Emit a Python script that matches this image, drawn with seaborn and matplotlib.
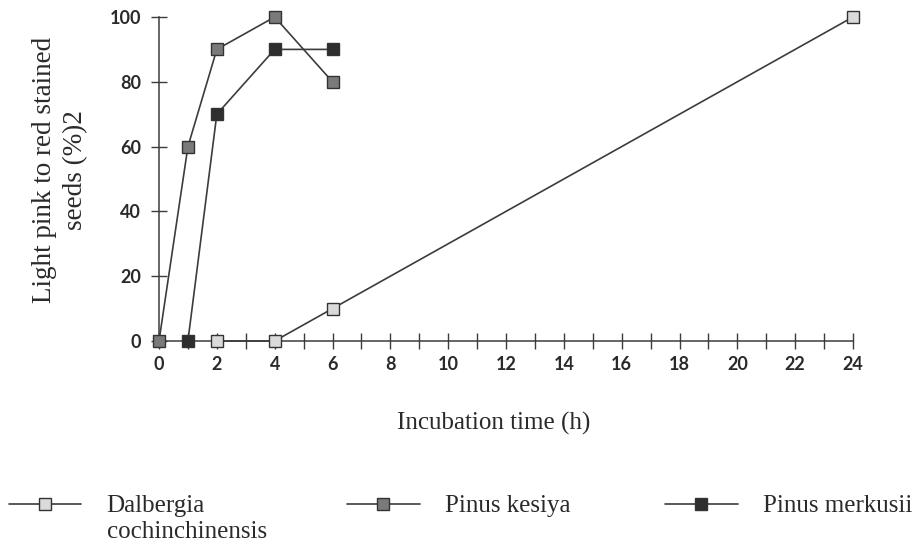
import matplotlib
matplotlib.use("Agg")
import matplotlib.pyplot as plt
import seaborn as sns
from matplotlib.lines import Line2D
from matplotlib.ticker import MultipleLocator

# ---- data ----
series_names = ["Dalbergia", "Pinus kesiya", "Pinus merkusii"]
series_name_extra = "cochinchinensis"
dalbergia_x = [2, 4, 6, 24]
dalbergia_y = [0, 0, 10, 100]
kesiya_x = [0, 1, 2, 4, 6]
kesiya_y = [0, 60, 90, 100, 80]
merkusii_x = [1, 2, 4, 6]
merkusii_y = [0, 70, 90, 90]
x_ticks = [0, 2, 4, 6, 8, 10, 12, 14, 16, 18, 20, 22, 24]
y_ticks = [0, 20, 40, 60, 80, 100]
xlabel = "Incubation time (h)"
ylabel = "Light pink to red stained\nseeds (%)2"

sns.set_style("ticks")
plt.rcParams["font.family"] = ["Lato", "DejaVu Sans"]

W, H = 921, 547
line_col = "#3c3c3c"
text_col = "#2a2a2a"
faces = ["#dadada", "#7a7a7a", "#2e2e2e"]
serif = "Liberation Serif"

fig = plt.figure(figsize=(W / 100, H / 100), dpi=100)
ax = fig.add_axes([159 / W, 1 - 341 / H, (853 - 159) / W, (341 - 17) / H])

data = [(dalbergia_x, dalbergia_y), (kesiya_x, kesiya_y), (merkusii_x, merkusii_y)]
for (xs, ys), fc in zip(data, faces):
    sns.lineplot(x=xs, y=ys, ax=ax, color=line_col, linewidth=1.2, marker="s",
                 markersize=9, markerfacecolor=fc, markeredgecolor="#333333",
                 markeredgewidth=1.0, clip_on=False, zorder=3)

ax.set_xlim(0, 24)
ax.set_ylim(0, 100)
ax.set_xticks(x_ticks)
ax.set_xticklabels([str(t) for t in x_ticks])
ax.xaxis.set_minor_locator(MultipleLocator(1))
ax.set_yticks(y_ticks)
ax.set_yticklabels([str(t) for t in y_ticks])

for s in ["top", "right"]:
    ax.spines[s].set_visible(False)
for s in ["left", "bottom"]:
    ax.spines[s].set_color(line_col)
    ax.spines[s].set_linewidth(1.1)

ax.tick_params(axis="both", which="both", direction="inout", length=12, width=1.0,
               color=line_col, labelsize=13, labelcolor=text_col)
for lab in ax.get_xticklabels() + ax.get_yticklabels():
    lab.set_fontweight("bold")
ax.tick_params(axis="x", pad=5)
ax.tick_params(axis="y", pad=7)

ax.set_xlabel(xlabel, fontsize=18, family=serif, color=text_col)
ax.xaxis.set_label_coords((494 - 159) / (853 - 159), -(412 - 341) / (341 - 17))
ax.set_ylabel(ylabel, fontsize=19.5, family=serif, color=text_col, linespacing=1.3)
ax.yaxis.set_label_coords(-(159 - 88) / (853 - 159), (341 - 170) / (341 - 17))

# legends (three separate entries along the bottom)
handle_x = [9, 347, 665]
legend_y = 506
legs = []
for name, fc, px in zip(series_names, faces, handle_x):
    h = Line2D([0], [0], color=line_col, linewidth=1.2, marker="s", markersize=9,
               markerfacecolor=fc, markeredgecolor="#333333", markeredgewidth=1.0)
    leg = fig.legend([h], [name], loc="center left",
                     bbox_to_anchor=(px / W, 1 - legend_y / H),
                     frameon=False, handlelength=2.9, handletextpad=1.0,
                     prop={"family": serif, "size": 18},
                     borderaxespad=0, borderpad=0)
    for t in leg.get_texts():
        t.set_color(text_col)
    legs.append(leg)

fig.canvas.draw()
r = fig.canvas.get_renderer()
bb = legs[0].get_texts()[0].get_window_extent(r)
fig.text(bb.x0 / W, (bb.y0 - 4) / H, series_name_extra, ha="left", va="top",
         family=serif, fontsize=18, color=text_col)

fig.savefig("out.png", dpi=100)
